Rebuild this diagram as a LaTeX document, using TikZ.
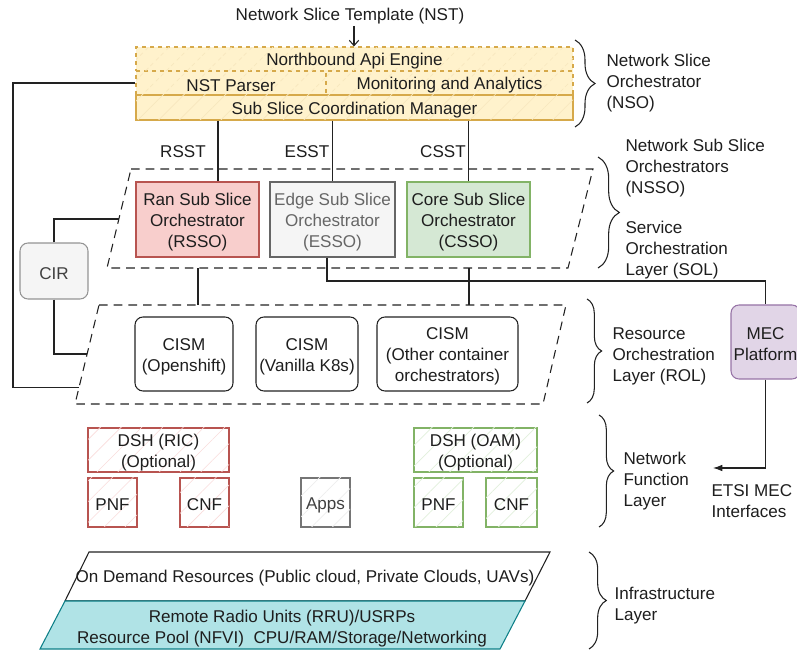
\documentclass[tikz,border=0pt]{standalone}
\usepackage{fontspec}
\setmainfont{Liberation Sans}
\usetikzlibrary{calc,arrows.meta,decorations.pathreplacing,patterns.meta}
\definecolor{txtc}{HTML}{1E1E1E}
\definecolor{nsofill}{HTML}{FFF2CC}
\definecolor{nsoline}{HTML}{D6A94A}
\definecolor{nsohatch}{HTML}{F7E7BE}
\definecolor{redfill}{HTML}{F8CECC}
\definecolor{redline}{HTML}{B85450}
\definecolor{redhatch}{HTML}{FADCDB}
\definecolor{greyfill}{HTML}{F5F5F5}
\definecolor{greyline}{HTML}{666666}
\definecolor{greyhatch}{HTML}{EEEEEE}
\definecolor{greenfill}{HTML}{D5E8D4}
\definecolor{greenline}{HTML}{82B366}
\definecolor{greenhatch}{HTML}{E2F0DC}
\definecolor{purpfill}{HTML}{E1D5E7}
\definecolor{purpline}{HTML}{9673A6}
\definecolor{cyanfill}{HTML}{B0E3E6}
\definecolor{cyanline}{HTML}{0E8088}
\definecolor{linec}{HTML}{222222}
\tikzset{
  box/.style={draw, inner sep=0pt},
  hatched/.style={postaction={pattern={Lines[angle=45,distance=11pt,line width=0.5pt]}, pattern color=#1}},
  nsobox/.style={box, fill=nsofill, draw=nsoline, hatched=nsohatch},
  redbox/.style={box, fill=white, draw=redline, hatched=redhatch},
  greenbox/.style={box, fill=white, draw=greenline, hatched=greenhatch},
  dshline/.style={draw=linec, dash pattern=on 6.5pt off 4.5pt},
  brc/.style={draw=linec, decorate, decoration={brace, amplitude=#1}},
  lbl/.style={align=left, anchor=west, inner sep=0pt},
  conn/.style={draw=linec},
  boxtext/.style={align=center, inner sep=0pt},
}
% box from pixel corner (x1,y1) to (x2,y2), then its text:
% \pxbox{box style}{x1}{y1}{x2}{y2}{name}{text style} {text};
\newcommand{\pxbox}[7]{\node[#1, minimum width={(#4-#2)*0.75pt}, minimum height={(#5-#3)*0.75pt}] (#6) at ({(#2+#4)/2},{(#3+#5)/2}) {};
  \node[boxtext, #7] (#6-t) at ($(#6.center)+(0,2.5)$)}
\begin{document}
\begin{tikzpicture}[x=0.75pt, y=-0.75pt, line width=0.8pt,
  every node/.style={font=\fontsize{12.8pt}{15.75pt}\selectfont, text=txtc}]
\useasboundingbox (0,0) rectangle (797,652);

% ---------- NSO ----------
\node[inner sep=1pt] (nst) at (350,16) {Network Slice Template (NST)};
\pxbox{nsobox, dashed}{136}{47}{573}{71}{nso1}{} {Northbound Api Engine};
\pxbox{nsobox, dashed}{136}{71}{326}{95}{nsop}{} {NST Parser};
\pxbox{nsobox, dashed}{326}{71}{573}{95}{nsom}{} {Monitoring and Analytics};
\pxbox{nsobox}{136}{95}{573}{120}{nso3}{} {Sub Slice Coordination Manager};
\coordinate (xa) at (354,0);
\draw[conn, -{Straight Barb[length=4pt,width=7pt]}] (nst.south -| xa) -- (nso1.north -| xa);

% ---------- SOL ----------
\draw[dshline] (131,169) coordinate (solTL) -- (593,169) coordinate (solTR)
  -- (568,268) coordinate (solBR) -- (107,268) coordinate (solBL) -- cycle;
\pxbox{box, fill=redfill, draw=redline}{136}{182}{259}{257}{rsso}{} {Ran Sub Slice\\Orchestrator\\(RSSO)};
\pxbox{box, fill=greyfill, draw=greyline}{270}{182}{395}{257}{esso}{text=greyline} {Edge Sub Slice\\Orchestrator\\(ESSO)};
\pxbox{box, fill=greenfill, draw=greenline}{407}{182}{530}{257}{csso}{} {Core Sub Slice\\Orchestrator\\(CSSO)};

\coordinate (xr) at (218,0);
\draw[conn] (nso3.south -| xr) -- (rsso.north -| xr);
\draw[conn] (nso3.south -| esso.north) -- (esso.north);
\draw[conn] (nso3.south -| csso.north) -- (csso.north);
\node (rsst) at (183,152) {RSST};
\node (esst) at (307,152) {ESST};
\node (csst) at (443,152) {CSST};

% ---------- ROL ----------
\draw[dshline] (99,305) coordinate (rolTL) -- (566,305) coordinate (rolTR)
  -- (543,404) coordinate (rolBR) -- (75,404) coordinate (rolBL) -- cycle;
\pxbox{box, rounded corners=6pt, fill=white, draw=linec}{135}{317}{233}{391}{cism1}{} {CISM\\(Openshift)};
\pxbox{box, rounded corners=6pt, fill=white, draw=linec}{256}{317}{358}{391}{cism2}{} {CISM\\(Vanilla K8s)};
\pxbox{box, rounded corners=6pt, fill=white, draw=linec}{377}{317}{518}{391}{cism3}{} {CISM\\(Other container\\orchestrators)};

\coordinate (x198) at (198,0);
\coordinate (x469) at (469,0);
\draw[conn] (solBL -| x198) -- (rolTL -| x198);
\draw[conn] (solBL -| x469) -- (rolTL -| x469);

% ---------- CIR & MEC ----------
\pxbox{box, rounded corners=6pt, fill=greyfill, draw=greyline!70}{20}{243}{88}{299}{cir}{text=txtc!85} {CIR};
\pxbox{box, rounded corners=6pt, fill=purpfill, draw=purpline}{731}{305}{800}{379}{mec}{} {MEC\\Platform};
\coordinate (solL) at ($(solTL)!0.505!(solBL)$);
\coordinate (rolA) at ($(rolTL)!0.495!(rolBL)$);
\coordinate (rolB) at ($(rolTL)!0.838!(rolBL)$);
\coordinate (outer) at (13,0);
\draw[conn] (cir.north) |- (solL);
\draw[conn] (cir.south) |- (rolA);
\draw[conn] (nsop.west) -| (outer |- rolB) -- (rolB);

\coordinate (xe) at (327,0);
\coordinate (ye) at (0,281);
\draw[conn] (esso.south -| xe) -- (xe |- ye) -| (mec.north);
\coordinate (etsi) at (713,468);
\draw[conn, -{Latex[length=7pt,width=5pt]}] (mec.south) |- (etsi);
\node[lbl] (etsil) at (711,501) {ETSI MEC\\Interfaces};

% ---------- Network Function Layer ----------
\pxbox{redbox}{88}{428}{229}{472}{dshric}{} {DSH (RIC)\\(Optional)};
\pxbox{redbox}{88}{478}{137}{527}{pnf1}{} {PNF};
\pxbox{redbox}{180}{478}{229}{527}{cnf1}{} {CNF};
\pxbox{box, fill=white, draw=greyline!90, hatched=greyhatch}{301}{478}{350}{527}{apps}{text=txtc!85} {Apps};
\pxbox{greenbox}{414}{428}{537}{472}{dshoam}{} {DSH (OAM)\\(Optional)};
\pxbox{greenbox}{414}{478}{463}{527}{pnf2}{} {PNF};
\pxbox{greenbox}{486}{478}{537}{527}{cnf2}{} {CNF};

% ---------- Infrastructure ----------
\draw[draw=linec, fill=white] (89,552) -- (550,552) -- (525,601) -- (65,601) -- cycle;
\draw[draw=cyanline, fill=cyanfill] (65,601) -- (525,601) -- (500,649) -- (40,649) -- cycle;
\node[inner sep=0pt] (ondem) at (305,578) {On Demand Resources (Public cloud, Private Clouds, UAVs)};
\node[inner sep=0pt, align=center] (rpool) at (282,629) {Remote Radio Units (RRU)/USRPs\\Resource Pool (NFVI)\ \ CPU/RAM/Storage/Networking};

% ---------- Braces and layer labels ----------
\draw[brc=15pt] (575,40) -- (575,127);
\node[lbl] (nsol) at (606,83) {Network Slice\\Orchestrator\\(NSO)};
\draw[brc=16pt] (598,157) -- (598,268);
\node[lbl] (nssol) at (625,168) {Network Sub Slice\\Orchestrators\\(NSSO)};
\node[lbl] (soll) at (625,250) {Service\\Orchestration\\Layer (SOL)};
\draw[brc=11pt] (587,299) -- (587,403);
\node[lbl] (roll) at (612,356) {Resource\\Orchestration\\Layer (ROL)};
\draw[brc=11pt] (599,415) -- (599,527);
\node[lbl] (nfll) at (623,481) {Network\\Function\\Layer};
\draw[brc=13pt] (589,552) -- (589,649);
\node[lbl] (infl) at (614,606) {Infrastructure\\Layer};
\end{tikzpicture}
\end{document}
